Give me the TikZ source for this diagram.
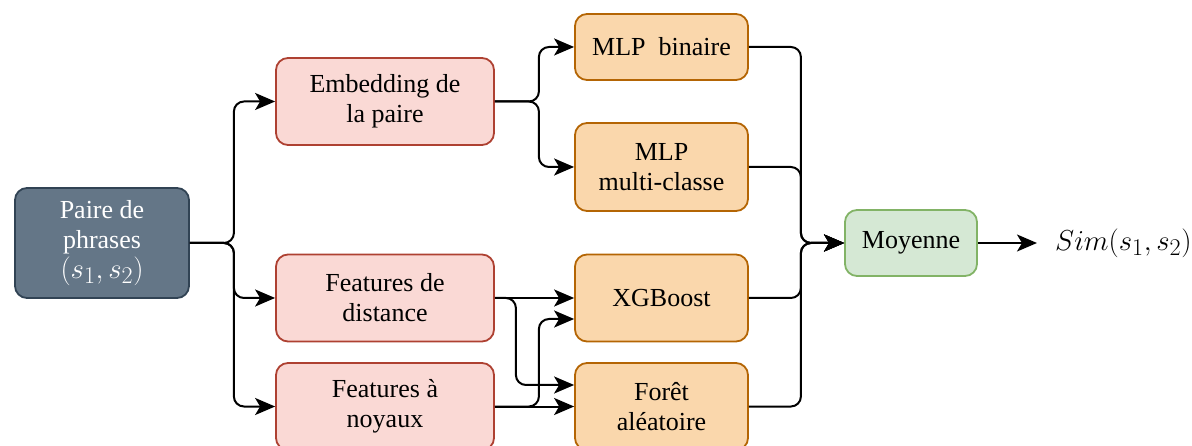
\documentclass[tikz,border=0pt]{standalone}
\usepackage[no-math]{fontspec}
\setmainfont{Liberation Serif}
\usepackage{graphicx}
\usetikzlibrary{arrows.meta,positioning}
\definecolor{darkfill}{HTML}{647687}
\definecolor{darkline}{HTML}{314354}
\definecolor{pinkfill}{HTML}{FAD9D5}
\definecolor{pinkline}{HTML}{AE4132}
\definecolor{orfill}{HTML}{FAD7AC}
\definecolor{orline}{HTML}{B46504}
\definecolor{grfill}{HTML}{D5E8D4}
\definecolor{grline}{HTML}{82B366}
\newcommand{\bigmath}[1]{{\fontsize{29}{30}\selectfont\scalebox{1.16}{$#1$}}}
\tikzset{
  box/.style={rectangle, rounded corners=12pt, line width=1.8pt, align=center,
    inner sep=0pt, font=\fontsize{26}{30}\selectfont},
  inbox/.style={box, fill=darkfill, draw=darkline, text=white, minimum width=174pt, minimum height=110pt},
  featbox/.style={box, fill=pinkfill, draw=pinkline, minimum width=218pt, minimum height=87pt},
  modbox/.style={box, fill=orfill, draw=orline, minimum width=173pt, minimum height=87pt},
  avgbox/.style={box, fill=grfill, draw=grline, minimum width=132pt, minimum height=66pt},
  arr/.style={line width=2pt, rounded corners=10pt, -{Stealth[length=20pt,width=17pt,inset=5pt]}},
}
\begin{document}
\begin{tikzpicture}[x=1pt,y=-1pt]
\useasboundingbox (0,0) rectangle (1192,446);
\node[inbox] (pair) at (102,243) {Paire de\\phrases\\\bigmath{(s_1,s_2)}};
\node[featbox] (emb) at (385,101.5) {Embedding de\\la paire};
\node[featbox] (dist) at (385,298) {Features de\\distance};
\node[featbox] (noy) at (385,406.5) {Features à\\noyaux};
\node[modbox, minimum height=66pt] (mlpb) at (661.5,47) {MLP\ \ binaire};
\node[modbox, minimum height=88pt] (mlpm) at (661.5,167) {MLP\\multi-classe};
\node[modbox] (xgb) at (661.5,298) {XGBoost};
\node[modbox] (foret) at (661.5,406.5) {Forêt\\aléatoire};
\node[avgbox] (moy) at (911,243) {Moyenne};
\node[inner sep=0pt, anchor=west] (sim) at (1055,243) {\bigmath{Sim(s_1,s_2)}};

\draw[arr] (pair.east) -- ++(44,0) |- (emb.west);
\draw[arr] (pair.east) -- ++(44,0) |- (dist.west);
\draw[arr] (pair.east) -- ++(44,0) |- (noy.west);

\draw[arr] (emb.east) -- ++(44,0) |- (mlpb.west);
\draw[arr] (emb.east) -- ++(44,0) |- (mlpm.west);

\draw[arr] (dist.east) -- (xgb.west);
\draw[arr] (dist.east) -- ++(21,0) |- ([yshift=21.5pt]foret.west);
\draw[arr] (noy.east) -- (foret.west);
\draw[arr] (noy.east) -- ++(44,0) |- ([yshift=-21pt]xgb.west);

\draw[arr] (mlpb.east) -- ++(52,0) |- (moy.west);
\draw[arr] (mlpm.east) -- ++(52,0) |- (moy.west);
\draw[arr] (xgb.east) -- ++(52,0) |- (moy.west);
\draw[arr] (foret.east) -- ++(52,0) |- (moy.west);

\draw[arr, shorten >=18pt] (moy.east) -- (sim.west);
\end{tikzpicture}
\end{document}
